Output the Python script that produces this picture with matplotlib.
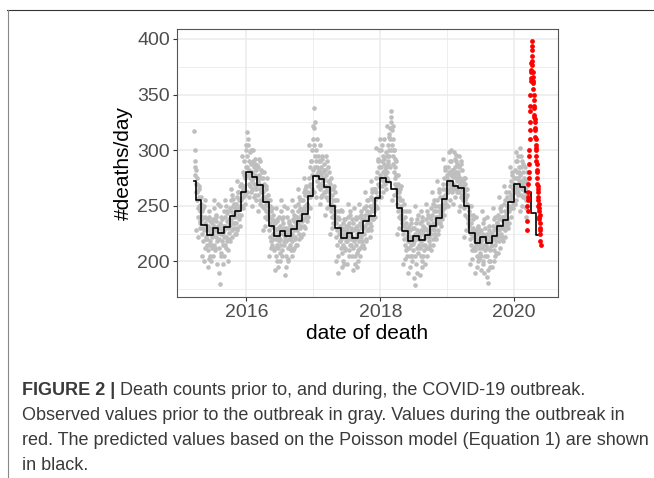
import matplotlib
matplotlib.use("Agg")
import matplotlib.dates as mdates
import matplotlib.pyplot as plt
import numpy as np
import pandas as pd
from matplotlib.lines import Line2D
from matplotlib.ticker import FixedLocator

# observed deaths/day (gray) (one row per month)
# 2015 starts at Mar 23, 2020 stops at Mar 11
GRAY_2015 = """
317 290 285 278 262
282 270 262 255 248 240 265 250 258 236 245 230 252 241
238 225 245 230 218 250 228 235 212 240 222 233 215 229
220 232 210 228 215 240 205 225 218 230 200 222 235 212
238 225 248 215 232 228 210 242 222 236 218 230 252 226
220 230 212 235 180 225 240 205 228 218 232 198 226 245
228 240 215 232 222 250 218 236 245 210 230 226 238 220
248 232 255 238 245 228 260 235 242 250 230 252 225 244
240 252 235 258 245 230 262 248 238 255 242 268 232 250
255 270 262 250 280 265 258 290 268 260 275 252 285 300
"""
GRAY_2016 = """
316 295 285 278 305 270 282 290 268 275 300 262 288 272
280 265 290 275 270 285 260 278 292 268 282 255 275 287
272 285 260 270 278 255 290 265 275 262 280 250 268 258
262 248 270 255 240 258 265 245 252 275 238 260 250 242
240 228 250 222 235 245 218 232 238 215 242 225 230 210
225 212 235 220 205 228 238 215 222 195 230 218 240 208
232 220 245 215 228 238 210 235 225 250 218 230 188 222
218 230 205 225 240 212 228 200 235 220 215 232 225 210
232 225 245 218 230 238 212 236 228 250 222 234 215 240
240 228 252 235 245 225 258 238 230 248 242 222 255 236
245 255 238 262 248 232 260 250 240 268 245 252 236 258
262 250 275 268 258 285 270 260 290 278 300 265 310 322
"""
GRAY_2017 = """
338 320 305 295 285 300 278 290 272 285 268 295 280 275
282 270 290 265 278 285 260 275 295 268 280 272 262 288
275 262 282 268 258 278 265 290 255 272 262 280 250 270
258 245 265 252 240 260 248 255 235 268 250 242 262 238
235 222 245 228 215 240 230 190 238 225 218 232 246 212
220 230 208 225 235 215 228 198 222 238 212 226 218 232
228 218 240 222 232 210 235 226 245 215 230 220 238 205
222 212 235 218 228 205 230 220 240 215 225 195 232 210
228 218 240 225 235 212 232 222 245 218 230 238 215 226
238 225 248 232 242 220 250 235 228 245 238 255 230 242
242 250 235 258 245 232 262 248 240 255 238 265 245 252
255 265 250 275 262 280 258 270 290 268 285 300 275 310
"""
GRAY_2018 = """
300 285 275 290 268 280 295 272 288 310 278 282 270 298
285 275 295 280 290 305 288 300 315 295 320 310 325 335
330 318 305 295 310 288 300 280 292 275 285 268 278 262
265 252 270 245 258 262 240 255 248 268 238 250 245 235
238 225 245 220 232 215 240 228 210 235 222 230 205 218
225 212 232 218 205 228 215 222 238 200 220 230 210 216
218 230 205 225 179 222 235 212 228 190 220 242 215 226
222 212 235 205 228 218 240 200 225 215 232 210 228 222
230 215 238 222 228 245 212 235 225 218 240 222 232 215
238 225 248 230 242 220 252 235 228 245 232 222 250 238
245 235 255 240 250 228 262 245 238 258 242 250 232 248
258 245 265 252 270 248 275 260 255 282 265 250 278 262
"""
GRAY_2019 = """
275 262 285 270 280 265 290 272 278 300 268 282 262 276
270 282 265 278 292 268 285 296 275 280 265 288 272 278
280 268 285 262 275 270 290 258 272 265 282 255 268 275
262 248 270 255 242 258 265 240 252 260 235 250 245 238
232 220 242 225 215 235 228 210 238 222 230 212 226 218
222 210 228 215 205 225 218 230 200 220 212 226 208 216
218 228 205 222 212 235 200 225 215 190 220 230 210 224
215 205 225 212 181 218 228 200 222 210 195 226 214 220
225 215 232 220 210 228 238 215 222 205 230 218 235 224
235 222 242 228 238 218 248 232 225 245 230 220 240 236
240 232 252 238 245 228 255 242 235 250 238 258 230 245
250 262 245 268 255 272 248 260 278 258 265 252 275 262
"""
GRAY_2020 = """
270 282 262 275 290 268 280 265 295 275 260 285 272 302
268 278 260 285 272 265 290 270 258 280 265 275 285 262
265 255 272 248 260 268
"""

# the in-between days of each month (second pass over the gray cloud)
GRAY_2015_B = """
300 270
228 275 222 268 235 258
205 248 200 255 220 238
195 245 202 236 215 226
205 255 212 240 198 232
190 250 208 238 215 222
205 255 212 244 200 235
218 265 222 256 235 248
225 272 228 262 240 255
242 295 248 278 262 305
"""
GRAY_2016_B = """
262 310 258 298 280 265
250 300 258 288 265 276
245 292 252 282 262 275
228 280 232 268 245 255
205 255 212 248 220 236
192 248 200 236 212 225
200 255 205 240 215 228
195 248 202 236 212 222
205 255 210 242 220 232
215 265 220 255 232 246
225 275 230 265 242 252
240 305 248 290 262 282
"""
GRAY_2017_B = """
262 325 258 310 280 290
252 305 258 292 268 282
242 295 248 285 258 272
225 275 230 265 242 255
200 255 205 245 218 228
195 245 200 238 210 224
198 252 205 242 215 228
192 248 198 238 208 222
200 252 205 242 215 230
212 262 218 255 228 242
222 272 228 265 238 250
240 302 248 292 258 278
"""
GRAY_2018_B = """
258 305 262 292 272 285
265 322 272 312 285 300
255 322 260 300 270 290
225 278 230 265 242 255
198 252 202 245 212 228
190 245 195 235 205 222
185 250 198 238 208 222
188 245 195 236 205 220
198 252 205 242 212 228
210 262 215 255 225 240
220 272 225 265 235 250
238 292 242 285 252 270
"""
GRAY_2019_B = """
250 298 255 290 265 280
252 298 258 290 262 275
245 295 250 288 260 272
222 275 228 265 238 250
198 250 202 242 210 225
190 240 195 232 202 220
192 245 198 238 205 220
186 240 192 232 200 218
195 248 200 240 208 225
208 258 212 250 222 238
218 268 222 262 232 248
235 285 240 280 248 265
"""
GRAY_2020_B = """
252 298 255 290 262 280
245 295 250 288 258 272
240 280
"""

# observed deaths/day during the outbreak (red), daily from 2020-03-12
RED_START = "2020-03-12"
RED_VALUES = [236, 250, 228, 258, 245, 262, 255, 270, 280, 275, 288, 295, 300, 310,
              318, 325, 335, 340, 350, 362,
              365, 370, 378, 372, 385, 390, 398, 394, 380, 377, 370, 366, 360, 355,
              362, 350, 345, 340, 338, 332, 330, 325, 328, 320, 318, 312, 310, 305,
              300, 302,
              295, 290, 288, 282, 280, 275, 270, 268, 262, 265, 258, 255, 250, 252,
              245, 248, 240, 238, 242, 235, 230, 228, 225, 218, 215]

# monthly Poisson model prediction (black steps)
PRED_2015 = [272, 255, 233, 224, 230, 226, 231, 241, 245, 262]  # Mar-Dec
PRED_2016 = [280, 276, 269, 253, 232, 223, 227, 223, 229, 236, 243, 259]
PRED_2017 = [277, 274, 267, 250, 230, 221, 226, 221, 226, 236, 241, 257]
PRED_2018 = [275, 271, 265, 248, 227, 218, 223, 219, 224, 232, 239, 256]
PRED_2019 = [272, 268, 266, 250, 226, 217, 222, 217, 223, 232, 237, 253]
PRED_2020 = [270, 267, 262, 244, 224]  # Jan-May

FIRST_DAY = pd.Timestamp("2015-03-23")
LAST_DAY = pd.Timestamp("2020-05-25")

CAPTION_BOLD = "FIGURE 2 |"
CAPTION_LINES = [
    " Death counts prior to, and during, the COVID-19 outbreak.",
    "Observed values prior to the outbreak in gray. Values during the outbreak in",
    "red. The predicted values based on the Poisson model (Equation 1) are shown",
    "in black.",
]


def month_points(year, month, vals, d0=1, d1=None):
    start = pd.Timestamp(year, month, 1)
    d1 = d1 or start.days_in_month
    span = d1 - d0 + 1
    offs = (np.arange(len(vals)) + 0.5) * span / len(vals)
    return [start + pd.Timedelta(days=d0 - 1 + o) for o in offs]


def read_rows(year, first_month, text):
    xs, ys = [], []
    for i, row in enumerate(text.strip().splitlines()):
        vals = [float(v) for v in row.split()]
        month = first_month + i
        d0 = FIRST_DAY.day if (year, month) == (2015, 3) else 1
        d1 = 11 if (year, month) == (2020, 3) else None
        xs += month_points(year, month, vals, d0, d1)
        ys += vals
    return xs, ys


def gray_points():
    xs, ys = [], []
    years = [(2015, 3, GRAY_2015, GRAY_2015_B), (2016, 1, GRAY_2016, GRAY_2016_B),
             (2017, 1, GRAY_2017, GRAY_2017_B), (2018, 1, GRAY_2018, GRAY_2018_B),
             (2019, 1, GRAY_2019, GRAY_2019_B), (2020, 1, GRAY_2020, GRAY_2020_B)]
    for year, first_month, a, b in years:
        for text in (a, b):
            x, y = read_rows(year, first_month, text)
            xs += x
            ys += y
    return xs, ys


def step_points():
    vals = PRED_2015 + PRED_2016 + PRED_2017 + PRED_2018 + PRED_2019 + PRED_2020
    starts = list(pd.date_range("2015-03-01", periods=len(vals), freq="MS"))
    starts[0] = FIRST_DAY
    return starts + [LAST_DAY], vals + [vals[-1]]


def main():
    plt.rcParams["font.family"] = ["Liberation Sans", "DejaVu Sans"]
    fig = plt.figure(figsize=(6.54, 4.78), dpi=100)
    ax = fig.add_axes([177 / 654, 1 - 297 / 478, 381 / 654, 268 / 478])

    gx, gy = gray_points()
    ax.scatter(gx, gy, s=11, color="#BEBEBE", lw=0, zorder=2)
    sx, sy = step_points()
    ax.step(sx, sy, where="post", color="black", lw=1.2, zorder=3)
    rx = pd.date_range(RED_START, periods=len(RED_VALUES), freq="D")
    ax.scatter(rx, RED_VALUES, s=12, color="#FF0000", lw=0, zorder=4)

    # ggplot-like 5% expansion
    lo, hi = mdates.date2num(FIRST_DAY), mdates.date2num(LAST_DAY)
    pad = 0.05 * (hi - lo)
    ax.set_xlim(lo - pad, hi + pad)
    ymin, ymax = min(gy), max(RED_VALUES)
    ypad = 0.05 * (ymax - ymin)
    ax.set_ylim(ymin - ypad, ymax + ypad)

    ax.set_yticks([200, 250, 300, 350, 400])
    ax.yaxis.set_minor_locator(FixedLocator([175, 225, 275, 325, 375]))
    ax.set_xticks([mdates.date2num(pd.Timestamp(f"{y}-01-01")) for y in (2016, 2018, 2020)])
    ax.set_xticklabels(["2016", "2018", "2020"])
    ax.xaxis.set_minor_locator(FixedLocator(
        [mdates.date2num(pd.Timestamp(f"{y}-01-01")) for y in (2017, 2019)]))

    ax.grid(which="major", color="#EBEBEB", lw=1.1, zorder=0)
    ax.grid(which="minor", color="#EBEBEB", lw=0.6, zorder=0)
    ax.set_axisbelow(True)
    ax.tick_params(which="major", length=3, width=0.8, color="#333333",
                   labelsize=14, labelcolor="#4D4D4D", pad=2)
    ax.tick_params(which="minor", length=0)
    for sp in ax.spines.values():
        sp.set_color("#555555")
        sp.set_linewidth(0.8)

    ax.set_xlabel("date of death", fontsize=15, labelpad=2)
    ax.set_ylabel("#deaths/day", fontsize=15, labelpad=3)

    # page frame
    fig.add_artist(Line2D([7 / 654, 1], [1 - 10 / 478] * 2, color="#333333", lw=0.8))
    fig.add_artist(Line2D([7.5 / 654] * 2, [0, 1 - 10 / 478], color="#888888", lw=0.8))

    # caption
    cap_color = "#3A3A3A"
    y0 = 1 - 395 / 478
    t1 = fig.text(22 / 654, y0, CAPTION_BOLD, fontsize=13, fontweight="bold",
                  color=cap_color, va="baseline")
    ax.annotate(CAPTION_LINES[0], xy=(1, 0), xycoords=t1, va="bottom", ha="left",
                fontsize=13, color=cap_color, annotation_clip=False)
    for i, line in enumerate(CAPTION_LINES[1:], start=1):
        fig.text(22 / 654, y0 - i * 25 / 478, line, fontsize=13, color=cap_color,
                 va="baseline")

    fig.savefig("out.png", dpi=100)
    plt.close(fig)


if __name__ == "__main__":
    main()
